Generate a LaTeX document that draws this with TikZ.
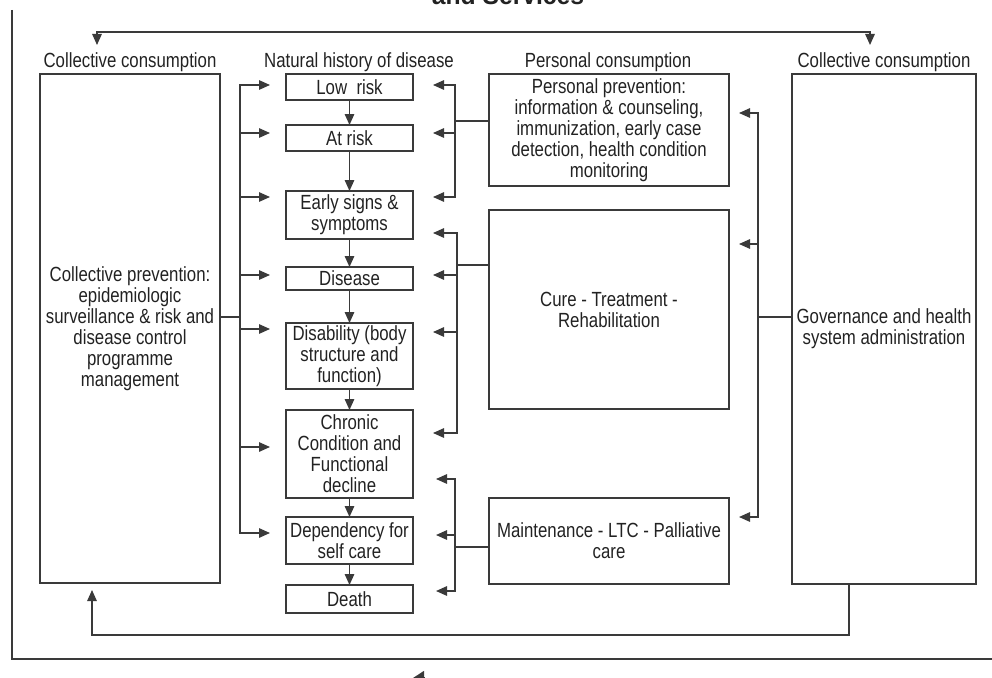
\documentclass[tikz,border=0pt]{standalone}
\usepackage{fontspec}
\setmainfont{Liberation Sans}[FakeStretch=0.82]
\newfontfamily\titlefont{Liberation Sans}[FakeStretch=0.95]
\usetikzlibrary{arrows.meta,calc}
\definecolor{ln}{HTML}{3A3A3A}
\definecolor{txt}{HTML}{222222}
\begin{document}
\begin{tikzpicture}[x=1pt,y=-1pt,
  every node/.style={font=\fontsize{20.5pt}{21pt}\selectfont, text=txt, inner sep=0pt, outer sep=0pt},
  box/.style={draw=ln, line width=1.4pt, align=center},
  nh/.style={box, minimum width=127pt},
  sv/.style={box, minimum width=240pt},
  lnk/.style={draw=ln, line width=1.4pt},
  arr/.style={lnk, -{Triangle[length=11pt,width=9.5pt]}},
  arrb/.style={lnk, {Triangle[length=11pt,width=9.5pt]}-{Triangle[length=11pt,width=9.5pt]}}]
\useasboundingbox (0,0) rectangle (992,677);
\clip (0,0) rectangle (992,677);

% title (cut off at top, as in the reference)
\node[font={\titlefont\fontsize{26pt}{28pt}\bfseries\selectfont}, anchor=base] (title) at (508,5) {and Services};

% frame
\coordinate (f1) at (12,10);
\coordinate (f2) at (1000,659);
\draw[lnk] (f1) |- (f2);

% column labels
\node (lab1) at (130,62) {Collective consumption};
\node (lab2) at (359,62) {Natural history of disease};
\node (lab3) at (608,62) {Personal consumption};
\node (lab4) at (884,62) {Collective consumption};

% top double arrow
\coordinate (tl) at (97,45);
\coordinate (tr) at (870,45);
\coordinate (tt) at (480,32);
\draw[arrb] (tl) |- (tt) -| (tr);

% big side boxes
\node[box, minimum width=180pt, minimum height=509pt] (cp) at (130,328.5)
  {Collective prevention:\\epidemiologic\\surveillance \& risk and\\disease control\\programme\\management};
\node[box, minimum width=184pt, minimum height=510pt] (gov) at (884,329)
  {Governance and health\\system administration};

% natural history boxes
\node[nh, minimum height=26pt] (low) at (349.5,87) {Low~~risk};
\node[nh, minimum height=26pt] (atr) at (349.5,138) {At risk};
\node[nh, minimum height=48pt] (early) at (349.5,215) {Early signs \&\\symptoms};
\node[nh, minimum height=23pt] (dis) at (349.5,278.5) {Disease};
\node[nh, minimum height=66pt] (disab) at (349.5,356) {Disability (body\\structure and\\function)};
\node[nh, minimum height=88pt] (chr) at (349.5,454) {Chronic\\Condition and\\Functional\\decline};
\node[nh, minimum height=47pt] (dep) at (349.5,540.5) {Dependency for\\self care};
\node[nh, minimum height=28pt] (death) at (349.5,599) {Death};

\draw[arr] (low) -- (atr);
\draw[arr] (atr) -- (early);
\draw[arr] (early) -- (dis);
\draw[arr] (dis) -- (disab);
\draw[arr] (disab) -- (chr);
\draw[arr] (chr) -- (dep);
\draw[arr] (dep) -- (death);

% service boxes
\node[sv, minimum height=112pt] (pp) at (609,130)
  {Personal prevention:\\information \& counseling,\\immunization, early case\\detection, health condition\\monitoring};
\node[sv, minimum height=199pt] (cure) at (609,309.5) {Cure - Treatment -\\Rehabilitation};
\node[sv, minimum height=86pt] (maint) at (609,541) {Maintenance - LTC - Palliative\\care};

% collective prevention bus
\coordinate (lb) at (240,317);
\draw[lnk] (cp.east |- lb) -- (lb);
\draw[arr] (lb) |- ([xshift=-16pt,yshift=2pt]low.west);
\draw[arr] (lb) |- ([xshift=-16pt,yshift=5pt]atr.west);
\draw[arr] (lb) |- ([xshift=-16pt,yshift=18pt]early.west);
\draw[arr] (lb) |- ([xshift=-16pt,yshift=3.5pt]dis.west);
\draw[arr] (lb) |- ([xshift=-16pt,yshift=27pt]disab.west);
\draw[arr] (lb) |- ([xshift=-16pt,yshift=7pt]chr.west);
\draw[arr] (lb) |- ([xshift=-16pt,yshift=7.5pt]dep.west);

% personal prevention bus
\coordinate (rb1) at (455,121);
\draw[lnk] (pp.west |- rb1) -- (rb1);
\draw[arr] (rb1) |- ([xshift=20pt,yshift=2pt]low.east);
\draw[arr] (rb1) |- ([xshift=20pt,yshift=5pt]atr.east);
\draw[arr] (rb1) |- ([xshift=20pt,yshift=18pt]early.east);

% cure bus
\coordinate (rb2) at (457,265);
\draw[lnk] (cure.west |- rb2) -- (rb2);
\draw[arr] (rb2) |- ([xshift=20pt,yshift=-18pt]early.east);
\draw[arr] (rb2) |- ([xshift=20pt,yshift=3.5pt]dis.east);
\draw[arr] (rb2) |- ([xshift=20pt,yshift=24pt]disab.east);
\draw[arr] (rb2) |- ([xshift=20pt,yshift=21pt]chr.east);

% maintenance bus
\coordinate (rb3) at (455,547);
\draw[lnk] (maint.west |- rb3) -- (rb3);
\draw[arr] (rb3) |- ([xshift=23pt,yshift=-25pt]chr.east);
\draw[arr] (rb3) |- ([xshift=23pt,yshift=5.5pt]dep.east);
\draw[arr] (rb3) |- ([xshift=23pt,yshift=8pt]death.east);

% governance bus
\coordinate (gb) at (758,317);
\draw[lnk] (gov.west |- gb) -- (gb);
\draw[arr] (gb) |- ([xshift=10pt,yshift=17pt]pp.east);
\draw[arr] (gb) |- ([xshift=10pt,yshift=65.5pt]cure.east);
\draw[arr] (gb) |- ([xshift=10pt,yshift=24pt]maint.east);

% bottom feedback
\coordinate (fbr) at (849,635);
\coordinate (fbl) at (92,635);
\draw[arr] (gov.south -| fbr) |- (fbl) -- ($(cp.south -| fbl)+(0,7)$);

% partial arrow at the bottom edge
\coordinate (ba1) at (425,678);
\coordinate (ba2) at (413,678);
\draw[lnk, -{Triangle[length=11pt,width=14pt]}] (ba1) -- (ba2);
\end{tikzpicture}
\end{document}
